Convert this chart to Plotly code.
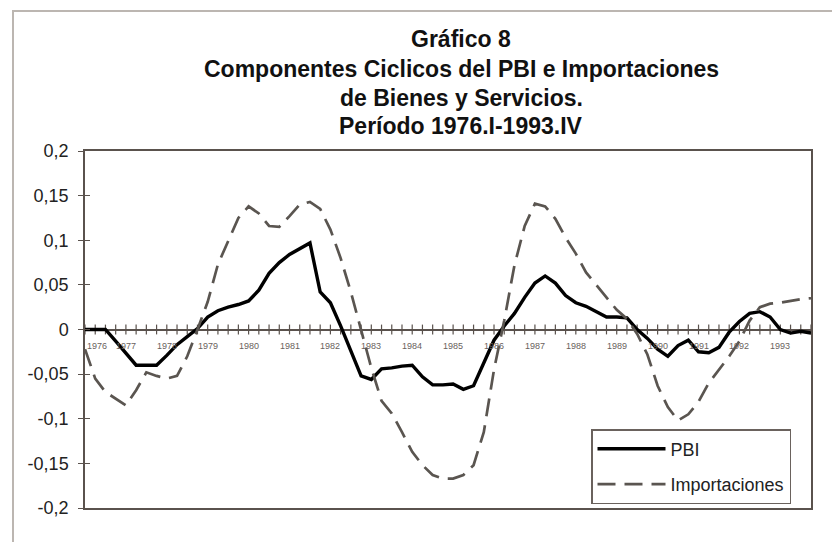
import plotly.graph_objects as go

# ---- data ----
years = list(range(1976, 1994))
quarter_names = ["I", "II", "III", "IV"]
quarters = [f"{y}.{q}" for y in years for q in quarter_names]

pbi = [0.000, 0.000, 0.000, -0.013, -0.027, -0.040, -0.040, -0.040, -0.029, -0.017,
       -0.008, 0.001, 0.014, 0.021, 0.025, 0.028, 0.032, 0.044, 0.063, 0.075,
       0.084, 0.091, 0.097, 0.042, 0.030, 0.004, -0.025, -0.052, -0.056, -0.044,
       -0.043, -0.041, -0.040, -0.053, -0.062, -0.062, -0.061, -0.067, -0.063, -0.037,
       -0.012, 0.004, 0.018, 0.036, 0.052, 0.060, 0.052, 0.038, 0.030, 0.026,
       0.020, 0.014, 0.014, 0.013, 0.000, -0.010, -0.022, -0.030, -0.018, -0.012,
       -0.025, -0.026, -0.020, -0.003, 0.009, 0.018, 0.020, 0.014, 0.000, -0.004,
       -0.002, -0.004]

importaciones = [-0.022, -0.055, -0.070, -0.078, -0.085, -0.068, -0.048, -0.052, -0.055, -0.052,
                 -0.030, 0.000, 0.031, 0.073, 0.100, 0.125, 0.138, 0.130, 0.116, 0.115,
                 0.127, 0.140, 0.143, 0.135, 0.112, 0.080, 0.042, 0.000, -0.043, -0.080,
                 -0.094, -0.115, -0.137, -0.152, -0.163, -0.167, -0.167, -0.163, -0.152, -0.115,
                 -0.045, 0.010, 0.072, 0.116, 0.141, 0.138, 0.124, 0.103, 0.085, 0.064,
                 0.050, 0.035, 0.022, 0.012, -0.005, -0.028, -0.063, -0.087, -0.102, -0.095,
                 -0.081, -0.060, -0.045, -0.030, -0.013, 0.010, 0.025, 0.029, 0.030, 0.032,
                 0.034, 0.035]

y_tickvals = [0.2, 0.15, 0.1, 0.05, 0, -0.05, -0.1, -0.15, -0.2]
y_ticktext = ["0,2", "0,15", "0,1", "0,05", "0", "-0,05", "-0,1", "-0,15", "-0,2"]
year_labels = [str(y) for y in years]

title_lines = ["Gráfico 8",
               "Componentes Ciclicos del PBI e Importaciones",
               "de Bienes y Servicios.",
               "Período 1976.I-1993.IV"]

# ---- figure ----
AXIS = "#5a524d"
FONT = "Liberation Sans, Arial, sans-serif"
W, H = 840, 542
ML, MR, MT, MB = 77, 37, 143, 42
PW, PH = W - ML - MR, H - MT - MB

xidx = list(range(len(quarters)))

fig = go.Figure()

# crossing tick marks of the category axis drawn at y = 0
fig.add_trace(go.Scatter(
    x=xidx, y=[0] * len(xidx), mode="markers",
    marker=dict(symbol="line-ns", size=7, line=dict(width=1.2, color=AXIS)),
    showlegend=False, hoverinfo="skip"))

fig.add_trace(go.Scatter(
    x=xidx, y=pbi, mode="lines", name="PBI", legendgroup="a",
    line=dict(color="#000000", width=3.4),
    customdata=quarters, hovertemplate="%{customdata}: %{y}<extra>PBI</extra>"))

fig.add_trace(go.Scatter(
    x=xidx, y=importaciones, mode="lines", name="Importaciones", legendgroup="b",
    line=dict(color="#5a5550", width=2.7, dash="18px,9px"),
    customdata=quarters, hovertemplate="%{customdata}: %{y}<extra>Importaciones</extra>"))

# invisible trace so the overlaying y axis (inner tick halves) is drawn
fig.add_trace(go.Scatter(x=[0], y=[0], yaxis="y2", mode="markers",
                         marker=dict(opacity=0), showlegend=False, hoverinfo="skip"))

annotations = []
# title lines
title_y = [31, 61, 90, 118]
for txt, ypx in zip(title_lines, title_y):
    annotations.append(dict(
        text=f"<b>{txt}</b>", xref="paper", yref="paper",
        x=(453 - ML) / PW, y=(H - MB - ypx) / PH,
        xanchor="center", yanchor="middle", showarrow=False,
        font=dict(family=FONT, size=23, color="#111111")))

# year labels under the zero line
for k, lab in enumerate(year_labels):
    annotations.append(dict(
        text=lab, x=xidx[4 * k], y=0, xref="x", yref="y",
        xanchor="left" if k == 0 else "center", yanchor="middle",
        yshift=-16, showarrow=False,
        font=dict(family=FONT, size=9, color="#6a625d")))

fig.update_layout(
    width=W, height=H,
    margin=dict(l=ML, r=MR, t=MT, b=MB, autoexpand=False),
    paper_bgcolor="white", plot_bgcolor="white",
    font=dict(family=FONT, size=18, color="#222222"),
    showlegend=True,
    legend=dict(x=(583 - ML) / PW, y=(H - MB - 421) / PH,
                xanchor="left", yanchor="top",
                bgcolor="white", bordercolor="#6a625d", borderwidth=1.5,
                font=dict(family=FONT, size=18, color="#222222"),
                itemwidth=68, tracegroupgap=9),
    xaxis=dict(range=[0, len(xidx) - 1], showticklabels=False, ticks="",
               showgrid=False, zeroline=False,
               showline=True, mirror=True, linecolor=AXIS, linewidth=1.5),
    yaxis=dict(range=[-0.2, 0.2], tickvals=y_tickvals, ticktext=y_ticktext,
               ticks="outside", ticklen=5, tickcolor=AXIS, tickwidth=1.2,
               ticklabelstandoff=6,
               showgrid=False, zeroline=True, zerolinecolor=AXIS, zerolinewidth=1.5,
               showline=True, mirror=True, linecolor=AXIS, linewidth=1.5,
               tickfont=dict(family=FONT, size=18, color="#222222")),
    yaxis2=dict(range=[-0.2, 0.2], overlaying="y", side="left", anchor="x",
                tickvals=y_tickvals, showticklabels=False,
                ticks="inside", ticklen=5, tickcolor=AXIS, tickwidth=1.2,
                showgrid=False, zeroline=False, showline=False),
    annotations=annotations,
    shapes=[dict(type="rect", xref="paper", yref="paper",
                 x0=(5 - ML) / PW, x1=(850 - ML) / PW,
                 y0=(H - MB - 538) / PH, y1=(H - MB - 3) / PH,
                 line=dict(color="#bcb6b1", width=2), fillcolor="rgba(0,0,0,0)",
                 layer="below")],
)

fig.write_html("out.html")
